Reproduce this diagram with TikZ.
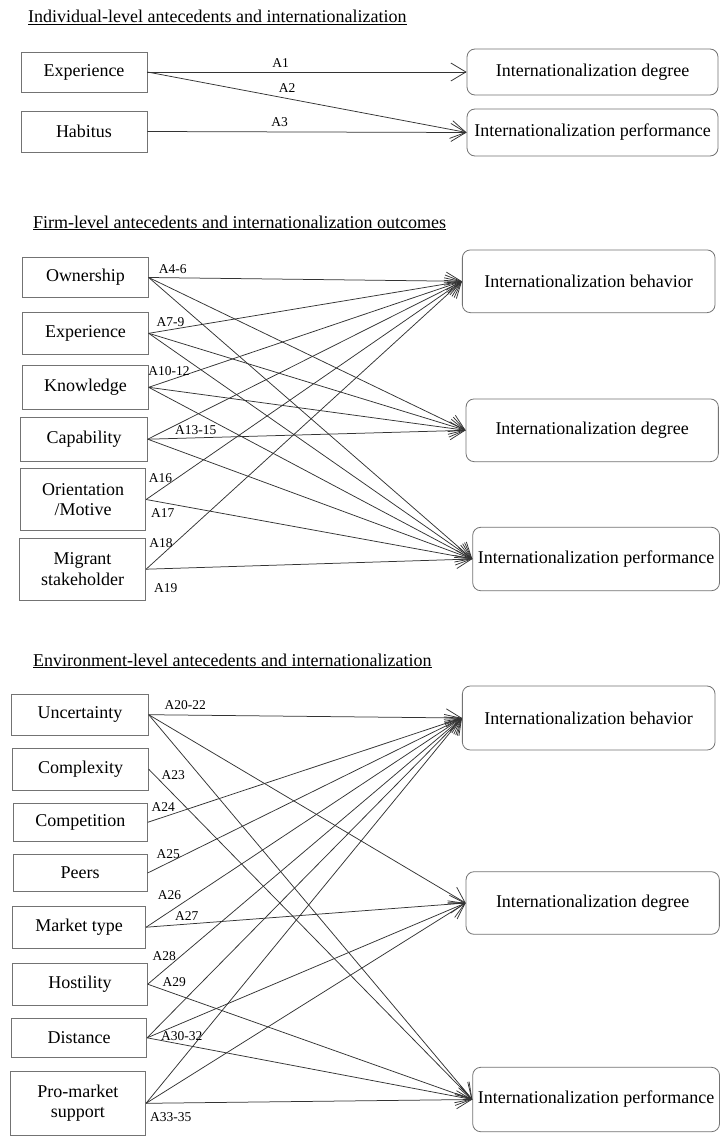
\documentclass[tikz,border=0pt]{standalone}
\usepackage{fontspec}
\setmainfont{Liberation Serif}
\usetikzlibrary{arrows.meta}
\begin{document}
\begin{tikzpicture}[x=1pt,y=-1pt,
  lbox/.style={draw=black!55, line width=0.8pt, inner sep=0pt, align=center,
    font=\fontsize{18}{20.5}\selectfont},
  rbox/.style={lbox, rounded corners=8pt},
  lab/.style={font=\fontsize{13.5}{15}\selectfont, inner sep=0pt},
  ttl/.style={font=\fontsize{18}{21}\selectfont, anchor=base west, inner sep=0pt},
  arr/.style={draw=black!80, line width=0.75pt, -{Straight Barb[length=15pt,width=18pt]}}]
\fill[white] (0,0) rectangle (720,1140);
\useasboundingbox (0,0) rectangle (720,1140);

% ---------- Individual level ----------
\node[ttl] (t1) at (28,23) {\underline{Individual-level antecedents and internationalization}};
\node[lbox, minimum width=126pt, minimum height=40pt] (ie) at (84,72) {Experience};
\node[lbox, minimum width=126pt, minimum height=41pt] (ih) at (84,131.5) {Habitus};
\node[rbox, minimum width=251pt, minimum height=46pt] (id) at (592.5,72) {Internationalization degree};
\node[rbox, minimum width=251pt, minimum height=47pt] (ip) at (592.5,132.5) {Internationalization performance};
\draw[arr] (ie.east) -- (id.west);
\draw[arr] (ie.east) -- (ip.west);
\draw[arr] (ih.east) -- (ip.west);
\node[lab] (a1) at (280.7,62.7) {A1};
\node[lab] (a2) at (287,88.3) {A2};
\node[lab] (a3) at (279.5,121.7) {A3};

% ---------- Firm level ----------
\node[ttl] (t2) at (33,228) {\underline{Firm-level antecedents and internationalization outcomes}};
\node[lbox, minimum width=125.6pt, minimum height=39.6pt] (own) at (85.5,277.5) {Ownership};
\node[lbox, minimum width=125.6pt, minimum height=42pt] (fexp) at (85.5,333.3) {Experience};
\node[lbox, minimum width=125.6pt, minimum height=43.3pt] (know) at (85.5,387.3) {Knowledge};
\node[lbox, minimum width=126.6pt, minimum height=43.7pt] (cap) at (84,439.2) {Capability};
\node[lbox, minimum width=125pt, minimum height=62.4pt] (ori) at (83.2,499.5) {Orientation\\/Motive};
\node[lbox, minimum width=126.4pt, minimum height=61.7pt] (mig) at (82.5,569.2) {Migrant\\stakeholder};
\node[rbox, minimum width=252.7pt, minimum height=62.7pt] (fb) at (588.7,281.3) {Internationalization behavior};
\node[rbox, minimum width=252.3pt, minimum height=62.7pt] (fd) at (592.2,430.3) {Internationalization degree};
\node[rbox, minimum width=246.8pt, minimum height=63.4pt] (fp) at (596.1,559) {Internationalization performance};
\foreach \s in {own,fexp,know,cap}{
  \draw[arr] (\s.east) -- (fb.west);
  \draw[arr] (\s.east) -- (fd.west);
  \draw[arr] (\s.east) -- (fp.west);
}
\foreach \s in {ori,mig}{
  \draw[arr] (\s.east) -- (fb.west);
  \draw[arr] (\s.east) -- (fp.west);
}
\node[lab] (a4) at (172.7,269) {A4-6};
\node[lab] (a7) at (170.5,321.7) {A7-9};
\node[lab] (a10) at (169,371.3) {A10-12};
\node[lab] (a13) at (195.8,430.5) {A13-15};
\node[lab] (a16) at (160.5,478) {A16};
\node[lab] (a17) at (162.8,512.8) {A17};
\node[lab] (a18) at (161,542.8) {A18};
\node[lab] (a19) at (165.7,588.3) {A19};

% ---------- Environment level ----------
\node[ttl] (t3) at (33,666) {\underline{Environment-level antecedents and internationalization}};
\node[lbox, minimum width=136.6pt, minimum height=40.7pt] (unc) at (80,714.7) {Uncertainty};
\node[lbox, minimum width=135.6pt, minimum height=41.7pt] (cplx) at (80.5,769.2) {Complexity};
\node[lbox, minimum width=134pt, minimum height=38.7pt] (comp) at (80.3,822.3) {Competition};
\node[lbox, minimum width=134pt, minimum height=37.4pt] (peer) at (80.2,873) {Peers};
\node[lbox, minimum width=133pt, minimum height=42.3pt] (mkt) at (79.2,927.2) {Market type};
\node[lbox, minimum width=134.6pt, minimum height=41.7pt] (host) at (80,984.2) {Hostility};
\node[lbox, minimum width=135pt, minimum height=39pt] (dist) at (79.2,1037.8) {Distance};
\node[lbox, minimum width=135.7pt, minimum height=63.3pt] (pro) at (77.8,1103.3) {Pro-market\\support};
\node[rbox, minimum width=252.7pt, minimum height=64pt] (eb) at (588.7,718) {Internationalization behavior};
\node[rbox, minimum width=253.3pt, minimum height=62.6pt] (ed) at (592.7,903) {Internationalization degree};
\node[rbox, minimum width=246.8pt, minimum height=64.4pt] (ep) at (596.1,1099.5) {Internationalization performance};
\foreach \s in {unc,dist,pro}{
  \draw[arr] (\s.east) -- (eb.west);
  \draw[arr] (\s.east) -- (ed.west);
  \draw[arr] (\s.east) -- (ep.west);
}
\draw[arr] (cplx.east) -- (ep.west);
\draw[arr] (comp.east) -- (eb.west);
\draw[arr] (peer.east) -- (eb.west);
\draw[arr] (mkt.east) -- (eb.west);
\draw[arr] (mkt.east) -- (ed.west);
\draw[arr] (host.east) -- (eb.west);
\draw[arr] (host.east) -- (ep.west);
\node[lab] (a20) at (185.3,704.7) {A20-22};
\node[lab] (a23) at (173.3,775.2) {A23};
\node[lab] (a24) at (163.3,807) {A24};
\node[lab] (a25) at (168.3,853.8) {A25};
\node[lab] (a26) at (169.5,895.3) {A26};
\node[lab] (a27) at (186.7,916.3) {A27};
\node[lab] (a28) at (164.3,955.8) {A28};
\node[lab] (a29) at (174.3,982) {A29};
\node[lab] (a30) at (181.7,1035.8) {A30-32};
\node[lab] (a33) at (170.8,1116.7) {A33-35};
\end{tikzpicture}
\end{document}
